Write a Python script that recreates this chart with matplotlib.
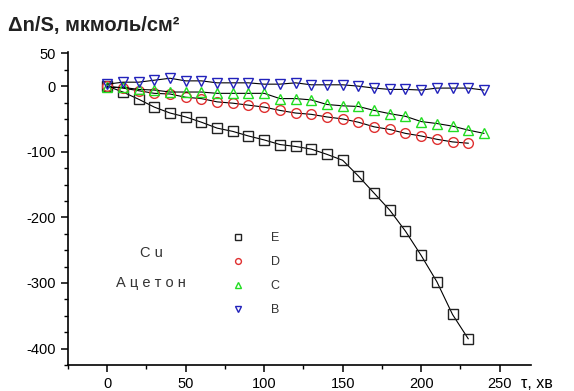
import numpy as np
import matplotlib.pyplot as plt
from matplotlib.ticker import MultipleLocator

plt.rcParams['font.family'] = ['Liberation Sans', 'DejaVu Sans']

# time, min
tau_ED = list(range(0, 240, 10))
tau_CB = list(range(0, 250, 10))

E = [0, -9, -20, -32, -41, -47, -55, -64, -69, -76, -82, -89, -92, -96,
     -104, -113, -137, -163, -189, -221, -258, -298, -348, -385]
D = [0, -3, -7, -11, -12, -17, -19, -24, -26, -29, -32, -37, -41, -43,
     -47, -50, -55, -62, -66, -72, -76, -81, -85, -87]
C = [-2, -2, -5, -6, -9, -9, -9, -11, -11, -11, -11, -19, -19, -21,
     -28, -30, -31, -37, -42, -46, -54, -57, -61, -67, -72]
B = [3, 6, 6, 9, 12, 8, 8, 5, 5, 5, 3, 3, 5, 2, 2, 2, 0, -3, -5, -5,
     -6, -3, -3, -3, -6]

fig = plt.figure(figsize=(5.74, 3.91), dpi=100)
ax = fig.add_axes([68/574, 1-365/391, (531-68)/574, (365-52)/391])

kw = dict(color='black', lw=0.8, mfc='none', ms=7, mew=1.0)
lE, = ax.plot(tau_ED, E, marker='s', mec='#222222', label='E', **kw)
lD, = ax.plot(tau_ED, D, marker='o', mec='#e03030', label='D', **kw)
lC, = ax.plot(tau_CB, C, marker='^', mec='#22dd22', label='C', **kw)
lB, = ax.plot(tau_CB, B, marker='v', mec='#2222bb', label='B', **kw)

ax.set_xlim(-25, 270)
ax.set_ylim(-425, 52)
ax.xaxis.set_major_locator(MultipleLocator(50))
ax.xaxis.set_minor_locator(MultipleLocator(25))
ax.yaxis.set_minor_locator(MultipleLocator(25))
ax.set_yticks([50, 0, -100, -200, -300, -400])
ax.set_yticklabels(['50', '0', '-100', '-200', '-300', '-400'])
for s in ['top', 'right']:
    ax.spines[s].set_visible(False)
for s in ['left', 'bottom']:
    ax.spines[s].set_linewidth(1.2)
ax.tick_params(which='major', direction='out', length=5, width=1.1,
               labelsize=10.5, colors='black', pad=4)
ax.tick_params(which='minor', direction='out', length=3, width=1.0)

# legend
leg = ax.legend(handles=[lE, lD, lC, lB], loc='upper left',
                bbox_to_anchor=(227/574, 1-221/391), bbox_transform=fig.transFigure,
                frameon=False, handlelength=0, markerscale=0.6, handletextpad=2.6,
                labelspacing=0.95, fontsize=9)
for t in leg.get_texts():
    t.set_color('#333333')

fig.text(151/574, 1-253/391, 'C u', ha='center', va='center', fontsize=10.5, color='#333333')
fig.text(151/574, 1-283/391, 'А ц е т о н', ha='center', va='center', fontsize=10.5, color='#333333')

fig.text(8/574, 1-26/391, 'Δn/S, мкмоль/см²', ha='left', va='center',
         fontsize=14.5, fontweight='bold', color='#222222')
fig.text(521/574, 1-383/391, 'τ, хв', ha='left', va='center', fontsize=11.5)

fig.savefig('out.png', dpi=100)
